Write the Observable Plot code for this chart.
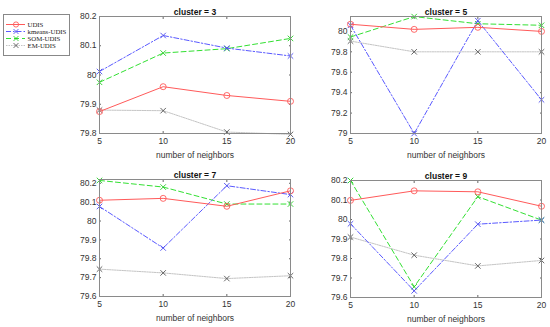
<!DOCTYPE html>
<html>
<head>
<meta charset="utf-8">
<script src="https://cdn.jsdelivr.net/npm/d3@7"></script>
<script src="https://cdn.jsdelivr.net/npm/@observablehq/plot@0.6"></script>
<style>
  html, body { margin: 0; padding: 0; background: #fff; }
  #root { position: relative; width: 550px; height: 327px; overflow: hidden; background: #fff; }
  #root > svg { position: absolute; }
</style>
</head>
<body>
<div id="root"></div>
<script>
const neighbors = [5, 10, 15, 20];
const series = ["UDIS", "kmeans-UDIS", "SOM-UDIS", "EM-UDIS"];
const titles = ["cluster = 3", "cluster = 5", "cluster = 7", "cluster = 9"];

// cluster = 3
const udis3   = [79.875, 79.96, 79.93, 79.91];
const kmeans3 = [80.012, 80.135, 80.092, 80.065];
const som3    = [79.975, 80.075, 80.09, 80.125];
const em3     = [79.88, 79.878, 79.805, 79.797];
// cluster = 5
const udis5   = [80.07, 80.02, 80.04, 80.0];
const kmeans5 = [80.06, 79.0, 80.105, 79.33];
const som5    = [79.945, 80.145, 80.075, 80.06];
const em5     = [79.905, 79.80, 79.80, 79.80];
// cluster = 7
const udis7   = [80.11, 80.12, 80.078, 80.16];
const kmeans7 = [80.077, 79.857, 80.187, 80.14];
const som7    = [80.215, 80.18, 80.09, 80.09];
const em7     = [79.745, 79.725, 79.695, 79.71];
// cluster = 9
const udis9   = [80.098, 80.147, 80.142, 80.068];
const kmeans9 = [79.978, 79.634, 79.976, 79.997];
const som9    = [80.2, 79.655, 80.117, 79.997];
const em9     = [79.91, 79.817, 79.762, 79.79];

const yDomains = [[79.8, 80.2], [79, 80.146], [79.6, 80.22], [79.6, 80.2]];
const yTicks = [
  [79.8, 79.9, 80, 80.1, 80.2],
  [79, 79.2, 79.4, 79.6, 79.8, 80],
  [79.6, 79.7, 79.8, 79.9, 80, 80.1, 80.2],
  [79.6, 79.7, 79.8, 79.9, 80, 80.1, 80.2]
];

const colors = ["#ff5a5a", "#5a5aff", "#33e033", "#c4c4c4"];
const dashes = [null, "5,2,1.5,2", "5,3", "1.5,1"];
const symbols = ["circle", "times", "times", "times"];
const markerStroke = ["#ff5a5a", "#4a4aee", "#22cc22", "#555"];

const clusters = [
  [udis3, kmeans3, som3, em3],
  [udis5, kmeans5, som5, em5],
  [udis7, kmeans7, som7, em7],
  [udis9, kmeans9, som9, em9]
];

// panel placement (svg offsets)
const places = [[59, 0], [310, 0], [59, 163], [310, 164]];
const ML = 40, MR = 10, MT = 16, MB = 30, PW = 191, PH = 117;

const fmt = d => String(+(+d).toFixed(1));
const root = document.getElementById("root");

clusters.forEach((vals, i) => {
  const rows = [];
  vals.forEach((arr, s) => arr.forEach((v, j) => rows.push({n: neighbors[j], v, s: series[s]})));
  const marks = [];
  series.slice().reverse().forEach((name) => {
    const s = series.indexOf(name);
    const d = rows.filter(r => r.s === name);
    marks.push(Plot.line(d, {x: "n", y: "v", stroke: colors[s], strokeWidth: 1, strokeDasharray: dashes[s] || undefined}));
    marks.push(Plot.dot(d, {x: "n", y: "v", symbol: symbols[s], r: s === 0 ? 3 : 2.6, stroke: markerStroke[s], fill: "none", strokeWidth: 0.9}));
  });
  const p = Plot.plot({
    width: ML + PW + MR,
    height: MT + PH + MB,
    marginLeft: ML, marginRight: MR, marginTop: MT, marginBottom: MB,
    style: {fontFamily: "'Liberation Sans', Arial, sans-serif", fontSize: "8.5px", background: "transparent", overflow: "visible", color: "#333"},
    x: {domain: [5, 20]},
    y: {domain: yDomains[i]},
    marks: [
      Plot.axisX({ticks: neighbors, tickSize: 0, tickPadding: 4, label: "number of neighbors", labelAnchor: "center", labelArrow: "none", labelOffset: 24, fontSize: 8.5}),
      Plot.axisX({ticks: neighbors, anchor: "bottom", tickSize: 2, dy: -2, tickFormat: () => "", label: null, stroke: "#666"}),
      Plot.axisX({ticks: neighbors, anchor: "top", tickSize: 2, dy: 2, tickFormat: () => "", label: null, stroke: "#666"}),
      Plot.axisY({ticks: yTicks[i], tickSize: 0, tickPadding: 3, tickFormat: fmt, label: null}),
      Plot.axisY({ticks: yTicks[i], anchor: "left", tickSize: 2, dx: 2, tickFormat: () => "", label: null, stroke: "#666"}),
      Plot.axisY({ticks: yTicks[i], anchor: "right", tickSize: 2, dx: -2, tickFormat: () => "", label: null, stroke: "#666"}),
      ...marks,
      Plot.frame({stroke: "#8a8a8a", strokeWidth: 1}),
      Plot.text([titles[i]], {frameAnchor: "top", dy: -8, fontWeight: "bold", fontSize: 8.5, fill: "#111"})
    ]
  });
  p.style.left = places[i][0] + "px";
  p.style.top = places[i][1] + "px";
  root.appendChild(p);
});

// legend
const legend = Plot.plot({
  width: 66, height: 41,
  margin: 0,
  style: {background: "#fff", overflow: "visible"},
  x: {domain: [0, 66], range: [0, 66], axis: null},
  y: {type: "point", domain: series, range: [6, 35], axis: null},
  marks: [
    Plot.frame({stroke: "#888", fill: "#fff"}),
    ...series.map((name, s) => Plot.ruleY([name], {x1: 3, x2: 22, stroke: colors[s], strokeDasharray: dashes[s] || undefined})),
    ...series.map((name, s) => Plot.dot([name], {x: 12.5, y: d => d, symbol: symbols[s], r: s === 0 ? 2.6 : 2.3, stroke: markerStroke[s], fill: "none", strokeWidth: 0.9})),
    Plot.text(series, {x: 24, y: d => d, text: d => d, textAnchor: "start", fontFamily: "'Liberation Serif', 'Times New Roman', serif", fontSize: 6.8, fill: "#222"})
  ]
});
legend.style.left = "3px";
legend.style.top = "14px";
root.appendChild(legend);
</script>
</body>
</html>
